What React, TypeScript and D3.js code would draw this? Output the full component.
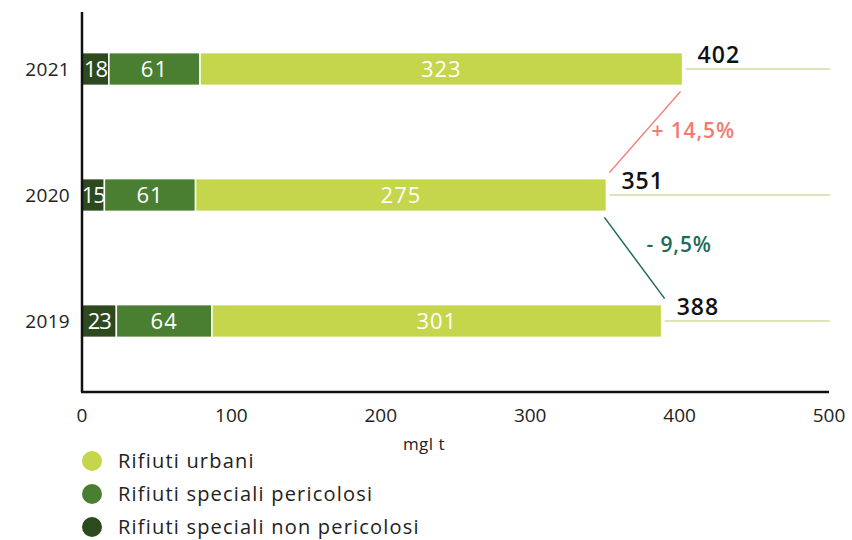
import React from "react";
import * as d3 from "d3";

const years = ["2021", "2020", "2019"];
const nonPericolosi = [18, 15, 23];
const pericolosi = [61, 61, 64];
const urbani = [323, 275, 301];
const totals = [402, 351, 388];
const xTicks = [0, 100, 200, 300, 400, 500];
const seriesNames = ["Rifiuti urbani", "Rifiuti speciali pericolosi", "Rifiuti speciali non pericolosi"];
const changes = [
  { from: "2020", to: "2021", label: "+ 14,5%", color: "#f07b72" },
  { from: "2019", to: "2020", label: "- 9,5%", color: "#1e6b5b" },
];

const W = 852, H = 540;
const colors = { non: "#2d4a1f", per: "#4a7f31", urb: "#c6d64c" };
const FONT = "'Open Sans', Lato, sans-serif";

export default function App() {
  const x = d3.scaleLinear().domain([0, 500]).range([82, 829]);
  const y = d3.scaleBand().domain(years).range([6, 384]).paddingInner(0.74).paddingOuter(0.37);
  const bw = y.bandwidth();

  const rows = years.map((yr, i) => {
    const segs = [
      { key: "non", v0: 0, v1: nonPericolosi[i], val: nonPericolosi[i], color: colors.non },
      { key: "per", v0: nonPericolosi[i], v1: nonPericolosi[i] + pericolosi[i], val: pericolosi[i], color: colors.per },
      { key: "urb", v0: nonPericolosi[i] + pericolosi[i], v1: nonPericolosi[i] + pericolosi[i] + urbani[i], val: urbani[i], color: colors.urb },
    ];
    return { yr, segs, total: totals[i] };
  });
  const totalOf = (yr: string) => totals[years.indexOf(yr)];

  return (
    <svg width={W} height={H} style={{ display: "block", position: "absolute", left: 0, top: 0 }} fontFamily={FONT}>
      {rows.map((r) => (
        <line key={"g" + r.yr} x1={x(r.total) + 3} x2={830} y1={y(r.yr)! + bw / 2} y2={y(r.yr)! + bw / 2} stroke="#e2e2b4" strokeWidth={2} />
      ))}
      {rows.map((r) => (
        <g key={r.yr}>
          {r.segs.map((s) => (
            <rect key={s.key} x={x(s.v0)} y={y(r.yr)!} width={x(s.v1) - x(s.v0)} height={bw} fill={s.color} stroke="#ffffff" strokeWidth={1.5} />
          ))}
          {r.segs.map((s) => (
            <text key={"t" + s.key} x={(x(s.v0) + x(s.v1)) / 2} y={y(r.yr)! + bw / 2} dy="0.36em" textAnchor="middle" fill="#fff" fontSize={22} letterSpacing={s.key === "non" ? -1.2 : 1}>
              {s.val}
            </text>
          ))}
          <text x={x(r.total) + 15} y={y(r.yr)! + bw / 2 - 6} fill="#111" fontSize={23} fontWeight={600} letterSpacing={1}>
            {r.total}
          </text>
          <text x={70} y={y(r.yr)! + bw / 2} dy="0.36em" textAnchor="end" fill="#222" fontSize={19} letterSpacing={0.3}>
            {r.yr}
          </text>
        </g>
      ))}
      {changes.map((c, i) => {
        const xTop = x(totalOf(c.to)) - 2;
        const yTop = y(c.to)! + bw + 6;
        const xBot = x(totalOf(c.from)) + 3;
        const yBot = y(c.from)! - 6;
        const lx = Math.min(xTop, xBot) + 42;
        const ly = i === 0 ? (yTop + yBot) / 2 - 2 : yTop + 27;
        return (
          <g key={c.label}>
            <line x1={xTop} y1={yTop} x2={xBot} y2={yBot} stroke={c.color} strokeWidth={1.5} />
            <text x={lx} y={ly} dy="0.36em" fill={c.color} fontSize={21} fontWeight={600} letterSpacing={0.9}>{c.label}</text>
          </g>
        );
      })}
      <line x1={82} x2={82} y1={12} y2={392} stroke="#111" strokeWidth={2.5} />
      <line x1={81} x2={829} y1={392} y2={392} stroke="#111" strokeWidth={2.5} />
      {xTicks.map((t) => (
        <text key={t} x={x(t)} y={415} dy="0.36em" textAnchor="middle" fill="#222" fontSize={19}>{t}</text>
      ))}
      <text x={424} y={444} dy="0.36em" textAnchor="middle" fill="#222" fontSize={17} letterSpacing={0.5}>mgl t</text>
      {seriesNames.map((n, i) => (
        <g key={n} transform={`translate(92, ${461 + i * 33})`}>
          <circle r={10} fill={[colors.urb, colors.per, colors.non][i]} />
          <text x={26} dy="0.36em" fill="#222" fontSize={20} letterSpacing={1.2}>{n}</text>
        </g>
      ))}
    </svg>
  );
}
